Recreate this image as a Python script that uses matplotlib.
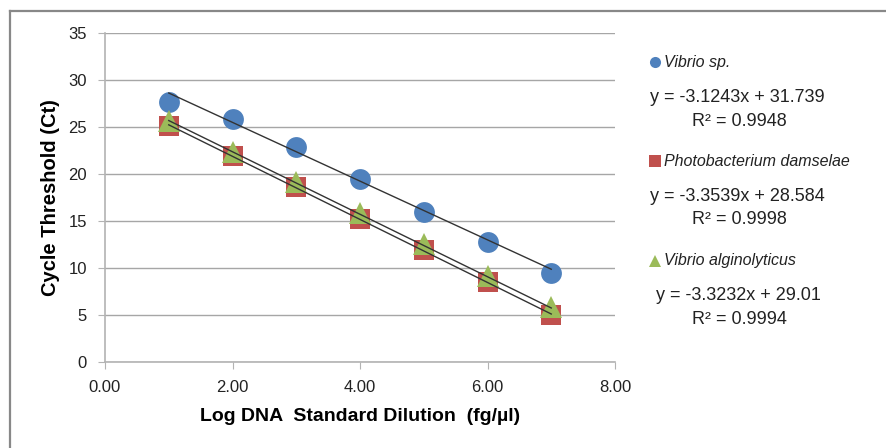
import numpy as np
import matplotlib.pyplot as plt
from matplotlib.lines import Line2D

plt.rcParams['font.family'] = ['Liberation Sans', 'DejaVu Sans']

dilution = [1, 2, 3, 4, 5, 6, 7]
ct_vibrio_sp = [27.7, 25.8, 22.9, 19.5, 16.0, 12.8, 9.5]
ct_photobacterium = [25.1, 21.9, 18.6, 15.2, 11.9, 8.5, 5.0]
ct_alginolyticus = [25.6, 22.3, 19.2, 15.9, 12.6, 9.2, 5.8]

species = ['Vibrio sp.', 'Photobacterium damselae', 'Vibrio alginolyticus']
slopes = [-3.1243, -3.3539, -3.3232]
intercepts = [31.739, 28.584, 29.01]
r2 = ['0.9948', '0.9998', '0.9994']
colors = ['#4F81BD', '#C0504D', '#9BBB59']
markers = ['o', 's', '^']

fig = plt.figure(figsize=(8.87, 4.48), dpi=100)
ax = fig.add_axes([105/887, 1 - 362/448, 510/887, 329/448])

series = [ct_vibrio_sp, ct_photobacterium, ct_alginolyticus]
sizes = [15, 15, 16]
for ys, c, m, s in zip(series, colors, markers, sizes):
    ax.plot(dilution, ys, linestyle='none', marker=m, markersize=s,
            color=c, markeredgewidth=0, zorder=3)

# linear trendlines
xs = np.array([dilution[0], dilution[-1]])
for a, b in zip(slopes, intercepts):
    ax.plot(xs, a * xs + b, color='#333333', lw=1.0, zorder=4)

ax.set_xlim(0, 8)
ax.set_ylim(0, 35)
ax.set_xticks(np.arange(0, 9, 2))
ax.set_xticklabels([f'{v:.2f}' for v in np.arange(0, 9, 2)])
ax.set_yticks(np.arange(0, 36, 5))
ax.yaxis.grid(True, color='#a6a6a6', lw=1)
ax.set_axisbelow(True)
for side in ['top', 'right']:
    ax.spines[side].set_visible(False)
for side in ['left', 'bottom']:
    ax.spines[side].set_color('#b3b3b3')
    ax.spines[side].set_linewidth(1.2)
ax.tick_params(colors='#b3b3b3', labelcolor='#222222', labelsize=12, length=5)
ax.tick_params(axis='x', pad=8)
ax.tick_params(axis='y', pad=8)
ax.set_xlabel('Log DNA  Standard Dilution  (fg/µl)', fontsize=14,
              fontweight='bold')
ax.xaxis.set_label_coords(0.5, -(416 - 362) / 329)
ax.set_ylabel('Cycle Threshold (Ct)', fontsize=14.5, fontweight='bold')
ax.yaxis.set_label_coords((51 - 105) / 510, 0.5)
ax.yaxis.label.set_va('center')
ax.xaxis.label.set_va('center')

# legend with equations on the right
label_y = [62, 161, 261]
eq_y = [98, 196, 296]
eq_x = [650, 650, 656]
for i in range(3):
    fig.add_artist(Line2D([655/887], [1 - label_y[i]/448], marker=markers[i],
                          color=colors[i], markersize=8, linestyle='none',
                          markeredgewidth=0))
    fig.text(664/887, 1 - label_y[i]/448, species[i], style='italic',
             fontsize=11.5, va='center', color='#222222')
    fig.text(eq_x[i]/887, 1 - eq_y[i]/448,
             f'y = {slopes[i]:g}x + {intercepts[i]:g}', fontsize=13,
             va='center', color='#222222')
    fig.text(692/887, 1 - (eq_y[i] + 23)/448, f'R² = {r2[i]}', fontsize=13,
             va='center', color='#222222')

# chart border
fig.add_artist(Line2D([10/887, 10/887], [1 - 11/448, 0], color='#888888', lw=1.6))
fig.add_artist(Line2D([10/887, 1], [1 - 11/448, 1 - 11/448], color='#888888', lw=1.6))

fig.savefig('out.png', dpi=100)
